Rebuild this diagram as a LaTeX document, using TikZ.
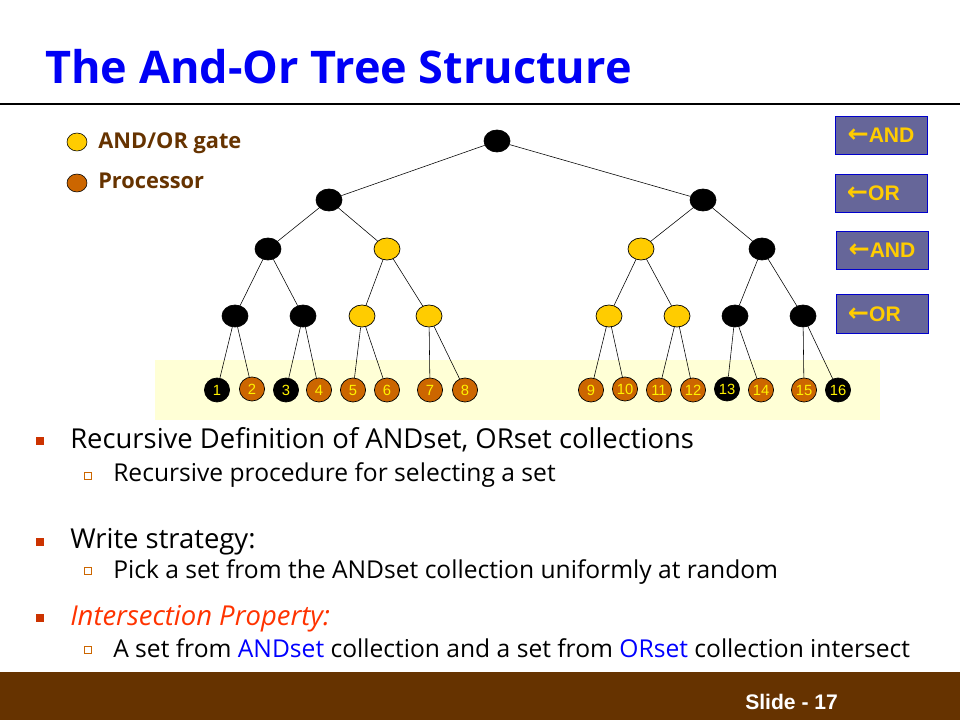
\documentclass[tikz,border=0pt]{standalone}
\usepackage{fontspec}
\setmainfont{Open Sans}
\newfontfamily\arial{Liberation Sans}
\newfontfamily\symfont{DejaVu Sans}
\usetikzlibrary{shapes.geometric}
\definecolor{titleblue}{RGB}{0,0,245}
\definecolor{gateyellow}{RGB}{255,204,0}
\definecolor{procbrown}{RGB}{204,102,0}
\definecolor{legendbrown}{RGB}{102,51,0}
\definecolor{bandyellow}{RGB}{255,255,214}
\definecolor{tagfill}{RGB}{102,102,153}
\definecolor{tagedge}{RGB}{0,0,204}
\definecolor{bulletred}{RGB}{204,51,0}
\definecolor{propred}{RGB}{255,51,0}
\definecolor{footbrown}{RGB}{102,51,0}
\definecolor{setblue}{RGB}{0,0,255}
\tikzset{
  gate/.style={ellipse, draw=black, line width=0.5pt, inner sep=0pt, minimum width=0.65cm, minimum height=0.55cm},
  andg/.style={gate, fill=black},
  org/.style={gate, fill=gateyellow},
  leaf/.style={ellipse, draw=black, line width=0.5pt, inner sep=0pt, minimum width=0.63cm, minimum height=0.6cm, text=yellow, font=\arial\fontsize{10.5}{10.5}\selectfont},
  proc/.style={leaf, fill=procbrown},
  dead/.style={leaf, fill=black},
  tagbox/.style={rectangle, draw=tagedge, fill=tagfill, line width=0.6pt, minimum width=2.3cm, minimum height=0.97cm, text=gateyellow, font=\arial\bfseries\fontsize{15}{15}\selectfont},
  bul/.style={rectangle, fill=bulletred, inner sep=0pt, minimum size=0.22cm},
  subbul/.style={rectangle, draw=procbrown, fill=white, line width=0.5pt, inner sep=0pt, minimum size=0.19cm},
  maintext/.style={anchor=base west, inner sep=0pt, font=\fontsize{19.5}{19.5}\selectfont},
  subtext/.style={anchor=base west, inner sep=0pt, font=\fontsize{17.5}{17.5}\selectfont},
  keytext/.style={anchor=base west, inner sep=0pt, text=legendbrown, font=\bfseries\fontsize{15.5}{15.5}\selectfont}
}
\begin{document}
\begin{tikzpicture}[x=0.025cm, y=-0.025cm]
  \useasboundingbox (0,0) rectangle (960,720);
  \node[anchor=base west, inner sep=0pt, text=titleblue, font=\bfseries\fontsize{32}{32}\selectfont] (title) at (45,84) {The And-Or Tree Structure};
  \draw[line width=0.8pt] (0,104) -- (960,104);

  \node[ellipse, draw=black, fill=gateyellow, inner sep=0pt, minimum width=0.5cm, minimum height=0.45cm] (keygate) at (77,142) {};
  \node[keytext] (keygatetxt) at (98,149) {AND/OR gate};
  \node[ellipse, draw=black, fill=procbrown, inner sep=0pt, minimum width=0.5cm, minimum height=0.45cm] (keyproc) at (77,183) {};
  \node[keytext] (keyproctxt) at (98,189) {Processor};

  \fill[bandyellow] (155,360) rectangle (880,420);

  \node[andg] (root) at (497,141) {};
  \node[andg] (la) at (329,200) {};
  \node[andg] (lb) at (703,200) {};
  \node[andg] (ma) at (268,249) {};
  \node[org] (mb) at (387,249) {};
  \node[org] (mc) at (641,249) {};
  \node[andg] (md) at (762,249) {};
  \node[andg] (na) at (235,316) {};
  \node[andg] (nb) at (303,316) {};
  \node[org] (nc) at (362,316) {};
  \node[org] (nd) at (429,316) {};
  \node[org] (ne) at (609,316) {};
  \node[org] (nf) at (677,316) {};
  \node[andg] (ng) at (735,316) {};
  \node[andg] (nh) at (803,316) {};

  \node[dead] (p1) at (217,390) {1};
  \node[proc] (p2) at (252,389) {2};
  \node[dead] (p3) at (286,390) {3};
  \node[proc] (p4) at (319,390) {4};
  \node[proc] (p5) at (353,390) {5};
  \node[proc] (p6) at (387,390) {6};
  \node[proc] (p7) at (430,390) {7};
  \node[proc] (p8) at (465,390) {8};
  \node[proc] (p9) at (591,390) {9};
  \node[proc] (p10) at (625,389) {10};
  \node[proc] (p11) at (659,390) {11};
  \node[proc] (p12) at (693,390) {12};
  \node[dead] (p13) at (727,389) {13};
  \node[proc] (p14) at (761,390) {14};
  \node[proc] (p15) at (804,390) {15};
  \node[dead] (p16) at (838,390) {16};

  \draw (root) -- (la);
  \draw (root) -- (lb);
  \draw (la) -- (ma);
  \draw (la) -- (mb);
  \draw (lb) -- (mc);
  \draw (lb) -- (md);
  \draw (ma) -- (na);
  \draw (ma) -- (nb);
  \draw (mb) -- (nc);
  \draw (mb) -- (nd);
  \draw (mc) -- (ne);
  \draw (mc) -- (nf);
  \draw (md) -- (ng);
  \draw (md) -- (nh);
  \draw (na) -- (p1);
  \draw (na) -- (p2);
  \draw (nb) -- (p3);
  \draw (nb) -- (p4);
  \draw (nc) -- (p5);
  \draw (nc) -- (p6);
  \draw (nd) -- (p7);
  \draw (nd) -- (p8);
  \draw (ne) -- (p9);
  \draw (ne) -- (p10);
  \draw (nf) -- (p11);
  \draw (nf) -- (p12);
  \draw (ng) -- (p13);
  \draw (ng) -- (p14);
  \draw (nh) -- (p15);
  \draw (nh) -- (p16);

  \node[tagbox] (tag1) at (881,135.5) {{\symfont\bfseries\fontsize{18}{15}\selectfont ←}AND};
  \node[tagbox] (tag2) at (881,193.5) {{\symfont\bfseries\fontsize{18}{15}\selectfont ←}OR\phantom{D}};
  \node[tagbox] (tag3) at (882,250.5) {{\symfont\bfseries\fontsize{18}{15}\selectfont ←}AND};
  \node[tagbox] (tag4) at (882,314) {{\symfont\bfseries\fontsize{18}{15}\selectfont ←}OR\phantom{D}};

  \node[bul] (b1) at (40,441) {};
  \node[maintext] (t1) at (70,449) {Recursive Definition of ANDset, ORset collections};
  \node[subbul] (s1) at (88,476) {};
  \node[subtext] (u1) at (113,482) {Recursive procedure for selecting a set};
  \node[bul] (b2) at (40,542) {};
  \node[maintext] (t2) at (70,549) {Write strategy:};
  \node[subbul] (s2) at (88,571) {};
  \node[subtext] (u2) at (113,578) {Pick a set from the ANDset collection uniformly at random};
  \node[bul] (b3) at (40,618) {};
  \node[maintext, text=propred, font=\itshape\fontsize{19.5}{19.5}\selectfont] (t3) at (70,625) {Intersection Property:};
  \node[subbul] (s3) at (88,650) {};
  \node[subtext] (u3) at (113,657) {A set from \textcolor{setblue}{ANDset} collection and a set from \textcolor{setblue}{ORset} collection intersect};

  \fill[footbrown] (0,672) rectangle (960,720);
  \node[anchor=base west, inner sep=0pt, text=white, font=\arial\bfseries\fontsize{15}{15}\selectfont] (slide) at (745,709) {Slide - 17};
\end{tikzpicture}
\end{document}
